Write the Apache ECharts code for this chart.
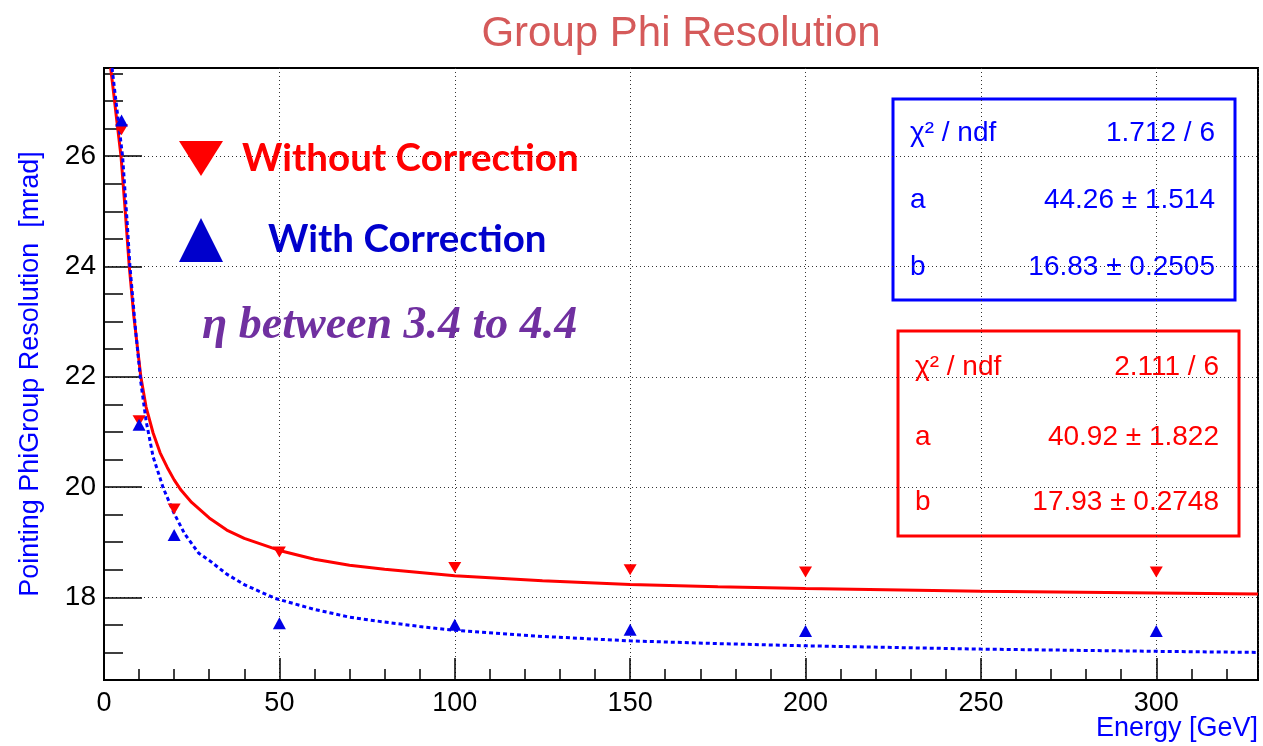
<!DOCTYPE html>
<html>
<head>
<meta charset="utf-8">
<title>Group Phi Resolution</title>
<script src="https://cdn.jsdelivr.net/npm/echarts@6.0.0/dist/echarts.min.js"></script>
<style>
  html, body { margin: 0; padding: 0; background: #fff; }
  #chart { width: 1263px; height: 746px; }
</style>
</head>
<body>
<div id="chart"></div>
<script>
// measured points (Energy in GeV, resolution in mrad)
const energies = [5, 10, 20, 50, 100, 150, 200, 300];
const withoutCorr = [26.48, 21.2, 19.6, 18.82, 18.54, 18.5, 18.46, 18.46];
const withCorr = [26.65, 21.13, 19.13, 17.53, 17.5, 17.41, 17.39, 17.39];

// fit curves
const redFitE = [1.9, 2.5, 3.5, 4.85, 6, 7.2, 8.5, 10.5, 12, 14, 16, 18, 20, 22, 25, 30, 35, 40, 50, 60, 70, 80, 90, 100, 125, 150, 175, 200, 250, 300, 329];
const redFit = [27.6, 27.28, 26.73, 26.0, 25.05, 24.0, 23.1, 22.0, 21.45, 20.98, 20.62, 20.36, 20.13, 19.94, 19.72, 19.44, 19.22, 19.07, 18.85, 18.69, 18.58, 18.51, 18.45, 18.39, 18.3, 18.23, 18.19, 18.16, 18.11, 18.08, 18.06];
const blueFitE = [2.3, 3.5, 5.3, 6.5, 7.4, 9, 10.5, 12, 14, 16.9, 20, 23, 27, 30, 35, 40, 48.8, 60, 70, 80, 90, 100, 125, 150, 175, 200, 250, 300, 329];
const blueFit = [27.6, 26.95, 26.0, 24.9, 24.0, 22.85, 21.9, 21.2, 20.55, 19.98, 19.52, 19.15, 18.8, 18.67, 18.42, 18.23, 17.98, 17.78, 17.64, 17.55, 17.47, 17.4, 17.29, 17.21, 17.16, 17.12, 17.06, 17.02, 17.0];

// axis ticks
const yMajorTicks = [18, 20, 22, 24, 26];

// fit box texts
const blueStats = [['χ² / ndf', '1.712 / 6'], ['a', '44.26 ± 1.514'], ['b', '16.83 ± 0.2505']];
const redStats = [['χ² / ndf', '2.111 / 6'], ['a', '40.92 ± 1.822'], ['b', '17.93 ± 0.2748']];

const RED = '#ff0000';
const BLUE = '#0000ff';
const downTri = 'path://M0,0L10,0L5,8Z';

const pairs = (xs, ys) => xs.map((x, i) => [x, ys[i]]);

const dotted = { color: '#333', width: 1, type: [1, 3] };
const tickStyle = { color: '#000', width: 1.5 };

function statsBox(x, y, w, h, color, rows, rowY) {
  const children = [{
    type: 'rect',
    shape: { x: 0, y: 0, width: w, height: h },
    style: { fill: '#fff', stroke: color, lineWidth: 3 }
  }];
  rows.forEach((r, i) => {
    children.push({
      type: 'text', x: 17, y: rowY[i],
      style: { text: r[0], fill: color, font: '28px "Liberation Sans"', align: 'left', verticalAlign: 'middle' }
    });
    children.push({
      type: 'text', x: w - 20, y: rowY[i],
      style: { text: r[1], fill: color, font: '28px "Liberation Sans"', align: 'right', verticalAlign: 'middle' }
    });
  });
  return { type: 'group', x: x, y: y, z: 100, children: children };
}

const chart = echarts.init(document.getElementById('chart'));

const option = {
  animation: false,
  backgroundColor: '#fff',
  textStyle: { fontFamily: 'Liberation Sans' },
  grid: {
    left: 104, top: 68, right: 5, bottom: 66,
    show: true, borderColor: '#000', borderWidth: 2
  },
  legend: {
    orient: 'vertical',
    left: 179,
    top: 139,
    padding: 0,
    itemWidth: 44,
    itemHeight: 44,
    itemGap: 40,
    selectedMode: false,
    textStyle: { fontFamily: 'Lato', fontWeight: 'bold', fontSize: 38.5 },
    data: [
      { name: 'Without Correction', icon: downTri, itemStyle: { color: RED, opacity: 1 }, textStyle: { color: RED, padding: [0, 0, 0, 14] } },
      { name: 'With Correction', icon: 'path://M5,0L10,10L0,10Z', itemStyle: { color: '#0000cc', opacity: 1 }, textStyle: { color: '#0000cc', padding: [0, 0, 0, 40] } }
    ]
  },
  xAxis: [
    {
      type: 'value', min: 0, max: 329, interval: 50, position: 'bottom',
      axisLine: { show: true, onZero: false, lineStyle: { color: '#000', width: 2 } },
      axisTick: { inside: true, length: 22, lineStyle: tickStyle },
      axisLabel: { fontSize: 27, color: '#000', margin: 10, showMaxLabel: false },
      splitLine: { show: true, lineStyle: dotted }
    },
    {
      type: 'value', min: 0, max: 329, interval: 10, position: 'bottom',
      axisLine: { show: false },
      axisTick: { inside: true, length: 11, lineStyle: tickStyle },
      axisLabel: { show: false },
      splitLine: { show: false }
    }
  ],
  yAxis: [
    {
      type: 'value', min: 16.5, max: 27.6, splitNumber: 5, position: 'left',
      axisLine: { show: true, onZero: false, lineStyle: { color: '#000', width: 2 } },
      axisTick: { inside: true, length: 38, lineStyle: tickStyle, customValues: yMajorTicks },
      axisLabel: { fontSize: 28, color: '#000', margin: 8, customValues: yMajorTicks },
      splitLine: { show: true, lineStyle: dotted }
    },
    {
      type: 'value', min: 16.5, max: 27.6, interval: 0.5, position: 'left',
      axisLine: { show: false },
      axisTick: { inside: true, length: 19, lineStyle: tickStyle },
      axisLabel: { show: false },
      splitLine: { show: false }
    }
  ],
  series: [
    {
      name: 'Fit without correction', type: 'line', data: pairs(redFitE, redFit),
      showSymbol: false, lineStyle: { color: RED, width: 3 }, z: 3
    },
    {
      name: 'Fit with correction', type: 'line', data: pairs(blueFitE, blueFit),
      showSymbol: false, lineStyle: { color: BLUE, width: 3, type: [4, 3] }, z: 3
    },
    {
      name: 'Without Correction', type: 'scatter', data: pairs(energies, withoutCorr),
      symbol: downTri, symbolSize: [13, 11], itemStyle: { color: RED, opacity: 1 }, z: 4
    },
    {
      name: 'With Correction', type: 'scatter', data: pairs(energies, withCorr),
      symbol: 'triangle', symbolSize: [13, 12], itemStyle: { color: '#0000e6', opacity: 1 }, z: 4
    }
  ],
  graphic: [
    {
      type: 'text', x: 681, y: 34, z: 100,
      style: { text: 'Group Phi Resolution', fill: '#d55a5a', font: '42px "Liberation Sans"', align: 'center', verticalAlign: 'middle' }
    },
    {
      type: 'text', x: 202, y: 326, z: 100,
      style: { text: 'η between 3.4 to 4.4', fill: '#7030a0', font: 'italic bold 46px "Liberation Serif"', align: 'left', verticalAlign: 'middle' }
    },
    {
      type: 'text', x: 31, y: 374, rotation: Math.PI / 2, z: 100,
      style: { text: 'Pointing PhiGroup Resolution  [mrad]', fill: BLUE, font: '27px "Liberation Sans"', align: 'center', verticalAlign: 'middle' }
    },
    {
      type: 'text', x: 1258, y: 729, z: 100,
      style: { text: 'Energy [GeV]', fill: BLUE, font: '27px "Liberation Sans"', align: 'right', verticalAlign: 'middle' }
    },
    statsBox(893, 99, 342, 201, BLUE, blueStats, [34, 101, 168]),
    statsBox(898, 331, 341, 205, RED, redStats, [36, 106, 171])
  ]
};

chart.setOption(option);
window.addEventListener('resize', () => chart.resize());
</script>
</body>
</html>
